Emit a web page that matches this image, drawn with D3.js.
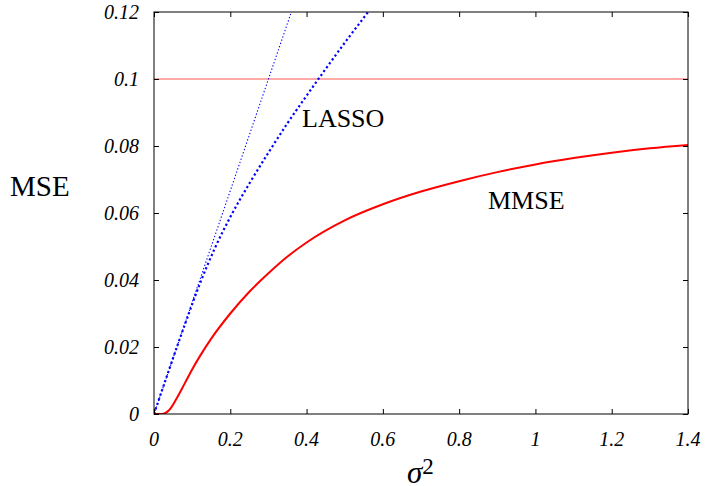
<!DOCTYPE html>
<html>
<head>
<meta charset="utf-8">
<script src="https://cdn.jsdelivr.net/npm/d3@7"></script>
</head>
<body style="margin:0">
<svg id="chart" width="708" height="486" style="font-family: 'Liberation Serif', serif;"></svg>
<script>
// values
var xTicks = [0, 0.2, 0.4, 0.6, 0.8, 1, 1.2, 1.4];
var yTicks = [0, 0.02, 0.04, 0.06, 0.08, 0.1, 0.12];

var mmseX = [0, 0.02, 0.04, 0.06, 0.08, 0.1, 0.12, 0.15, 0.2, 0.25, 0.3, 0.35, 0.4, 0.5, 0.6, 0.7, 0.8, 0.9, 1.0, 1.1, 1.2, 1.3, 1.4];
var mmseY = [0, 0, 0.0012, 0.0048, 0.009, 0.0133, 0.0172, 0.0225, 0.03, 0.0365, 0.042, 0.047, 0.0512, 0.0578, 0.0626, 0.0664, 0.0695, 0.0722, 0.0745, 0.0764, 0.078, 0.0793, 0.0803];

var lassoX = [0, 0.08, 0.12, 0.16, 0.2, 0.25, 0.3, 0.35, 0.4, 0.45, 0.5, 0.55, 0.6];
var lassoY = [0, 0.0264, 0.0388, 0.0496, 0.0588, 0.0688, 0.078, 0.0868, 0.095, 0.103, 0.1108, 0.1183, 0.1256];

var lassoThinX = [0, 0.4];
var lassoThinY = [0, 0.1333];

var constLevel = 0.1;

var svg = d3.select("#chart");
var plotLeft = 154, plotRight = 688, plotTop = 12, plotBottom = 414;

var x = d3.scaleLinear().domain([0, 1.4]).range([plotLeft, plotRight]);
var y = d3.scaleLinear().domain([0, 0.12]).range([plotBottom, plotTop]);

//clip curves to the plot frame
svg.append("clipPath").attr("id", "plotClip")
	.append("rect")
	.attr("x", plotLeft).attr("y", plotTop)
	.attr("width", plotRight - plotLeft).attr("height", plotBottom - plotTop);

function pairs(xs, ys){
	return xs.map(function(v, i){ return [v, ys[i]]; });
}

var line = d3.line()
	.x(function(d){ return x(d[0]); })
	.y(function(d){ return y(d[1]); })
	.curve(d3.curveMonotoneX);

var plot = svg.append("g").attr("clip-path", "url(#plotClip)");

//flat reference line
plot.append("line")
	.style("stroke", "#f55")
	.style("stroke-width", "1.2px")
	.attr("x1", x(0)).attr("x2", x(1.4))
	.attr("y1", y(constLevel)).attr("y2", y(constLevel));

//thin dotted lasso
plot.append("path")
	.datum(pairs(lassoThinX, lassoThinY))
	.attr("d", line)
	.style("fill", "none")
	.style("stroke", "#00f")
	.style("stroke-width", "1.1px")
	.style("stroke-dasharray", "1.3,2.1");

//thick dotted lasso
plot.append("path")
	.datum(pairs(lassoX, lassoY))
	.attr("d", line)
	.style("fill", "none")
	.style("stroke", "#00f")
	.style("stroke-width", "2.2px")
	.style("stroke-dasharray", "2.2,2.6");

//mmse curve
plot.append("path")
	.datum(pairs(mmseX, mmseY))
	.attr("d", line)
	.style("fill", "none")
	.style("stroke", "#f00")
	.style("stroke-width", "2px");

//frame
svg.append("rect")
	.attr("x", plotLeft).attr("y", plotTop)
	.attr("width", plotRight - plotLeft).attr("height", plotBottom - plotTop)
	.style("fill", "none")
	.style("stroke", "black")
	.style("stroke-width", "1px");

var tickLen = 5;

//axes with inward ticks, mirrored on the opposite sides
var axisB = d3.axisBottom(x).tickValues(xTicks).tickSize(-tickLen).tickFormat("");
var axisT = d3.axisTop(x).tickValues(xTicks).tickSize(-tickLen).tickFormat("");
var axisL = d3.axisLeft(y).tickValues(yTicks).tickSize(-tickLen).tickFormat("");
var axisR = d3.axisRight(y).tickValues(yTicks).tickSize(-tickLen).tickFormat("");

[[axisB, "translate(0," + plotBottom + ")"], [axisT, "translate(0," + plotTop + ")"],
 [axisL, "translate(" + plotLeft + ",0)"], [axisR, "translate(" + plotRight + ",0)"]].forEach(function(a){
	var g = svg.append("g").attr("transform", a[1]).call(a[0]);
	g.select(".domain").remove();
	g.selectAll("line").style("stroke", "black").style("stroke-width", "1px");
});

//all text goes in its own group so nothing from the axes leaks in
var labels = svg.append("g");

labels.selectAll(".xLabel")
	.data(xTicks)
	.enter()
	.append("text")
	.attr("class", "xLabel")
	.attr("x", function(d){ return x(d); })
	.attr("y", 446)
	.attr("text-anchor", "middle")
	.style("font-family", "Liberation Serif")
	.style("font-style", "italic")
	.style("font-size", "20px")
	.text(function(d){ return d3.format("")(d); });

labels.selectAll(".yLabel")
	.data(yTicks)
	.enter()
	.append("text")
	.attr("class", "yLabel")
	.attr("x", 139)
	.attr("y", function(d){ return y(d) + 7; })
	.attr("text-anchor", "end")
	.style("font-family", "Liberation Serif")
	.style("font-style", "italic")
	.style("font-size", "20px")
	.text(function(d){ return d3.format("")(d); });

var titles = [
	{t: "MSE", x: 10, y: 196, s: 29},
	{t: "LASSO", x: 302, y: 127, s: 26},
	{t: "MMSE", x: 488, y: 209, s: 26}
];
labels.selectAll(".title")
	.data(titles)
	.enter()
	.append("text")
	.attr("class", "title")
	.attr("x", function(d){ return d.x; })
	.attr("y", function(d){ return d.y; })
	.style("font-family", "Liberation Serif")
	.style("font-size", function(d){ return d.s + "px"; })
	.text(function(d){ return d.t; });

var sig = labels.append("text")
	.attr("x", 407).attr("y", 483)
	.style("font-family", "Liberation Serif")
	.style("font-size", "31px");
sig.append("tspan").style("font-style", "italic").text("σ");
sig.append("tspan").attr("dy", -9).style("font-size", "23px").text("2");
</script>
</body>
</html>
